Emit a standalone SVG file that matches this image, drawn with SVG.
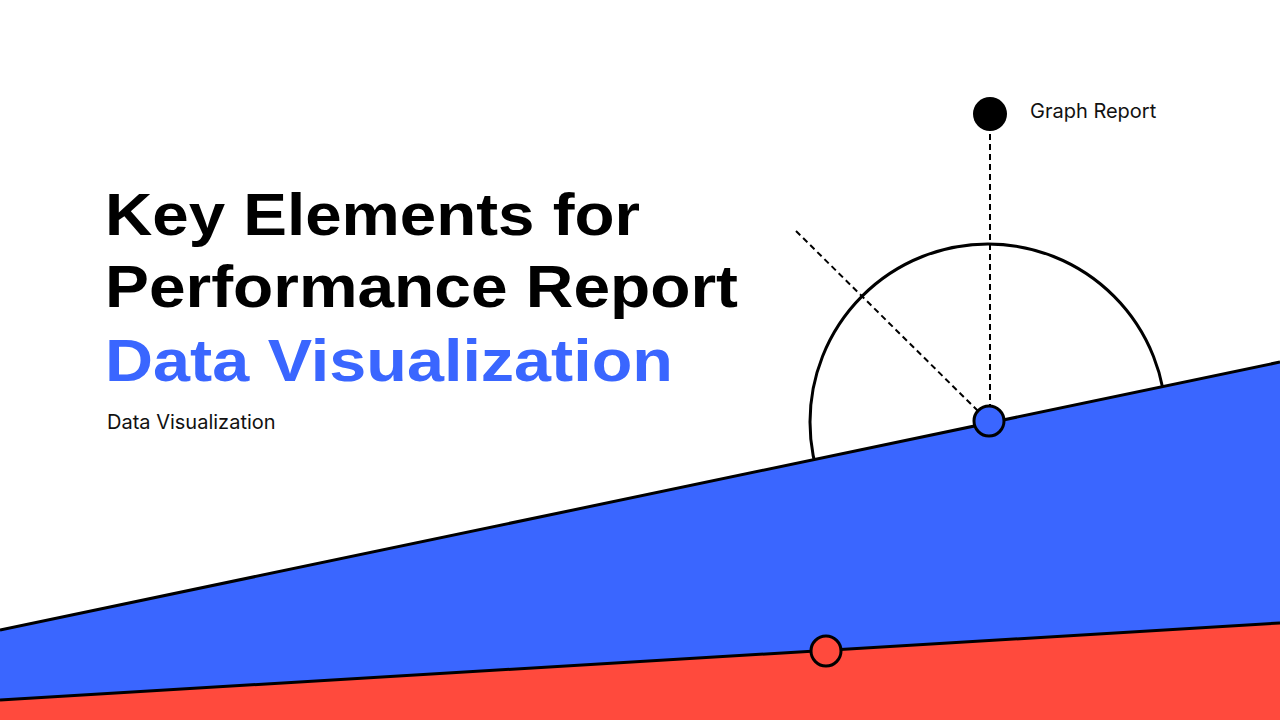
<svg xmlns="http://www.w3.org/2000/svg" width="1280" height="720" viewBox="0 0 1280 720">
<style>
.t{font-family:"Liberation Sans",Arial,sans-serif;font-weight:bold;font-size:60px}
.s{font-family:Inter,"Liberation Sans",sans-serif;font-size:20px;fill:#111}
.ln{stroke:#000;stroke-width:3;fill:none}
.d{stroke:#000;stroke-width:2;stroke-dasharray:6 4;fill:none}
</style>
<rect width="1280" height="720" fill="#fff"/>
<g id="title">
<text class="t" x="105" y="235" textLength="535" lengthAdjust="spacingAndGlyphs">Key Elements for</text>
<text class="t" x="105" y="307" textLength="633" lengthAdjust="spacingAndGlyphs">Performance Report</text>
<text class="t" x="105" y="381" fill="#3A66FF" textLength="568" lengthAdjust="spacingAndGlyphs">Data Visualization</text>
<text class="s" x="107" y="429">Data Visualization</text>
</g>
<g id="arc"><circle class="ln" cx="988" cy="422" r="178"/></g>
<g id="bands">
<polygon points="0,630 1280,362 1280,640 0,720" fill="#3A66FF"/>
<polygon points="0,700 1280,623 1280,720 0,720" fill="#FF4A3D"/>
<line class="ln" x1="0" y1="630" x2="1280" y2="362"/>
<line class="ln" x1="0" y1="700" x2="1280" y2="623"/>
</g>
<g id="connectors">
<line class="d" x1="990" y1="114" x2="990" y2="421"/>
<line class="d" x1="796" y1="231" x2="978" y2="411"/>
</g>
<g id="graph-report">
<circle cx="990" cy="114" r="17" fill="#000"/>
<text class="s" x="1030" y="118">Graph Report</text>
</g>
<g id="blue-dot"><circle cx="989" cy="421" r="15" fill="#3A66FF" stroke="#000" stroke-width="3"/></g>
<g id="red-dot"><circle cx="826" cy="651" r="15" fill="#FF4A3D" stroke="#000" stroke-width="3"/></g>
</svg>
